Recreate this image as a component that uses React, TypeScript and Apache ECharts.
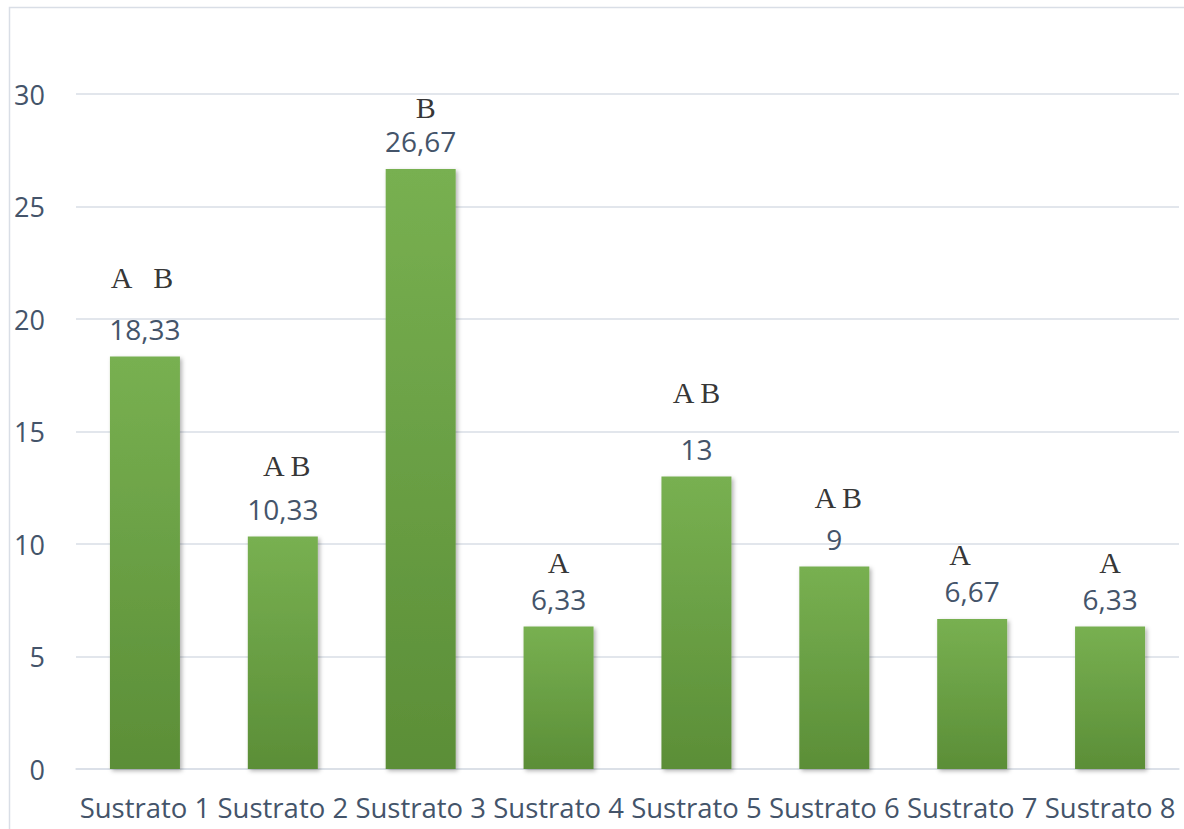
import React, { useEffect, useRef } from "react";
import * as echarts from "echarts";

const categories = ["Sustrato 1", "Sustrato 2", "Sustrato 3", "Sustrato 4", "Sustrato 5", "Sustrato 6", "Sustrato 7", "Sustrato 8"];
const values = [18.33, 10.33, 26.67, 6.33, 13, 9, 6.67, 6.33];
const letters = ["A   B", "A B", "B", "A", "A B", "A B", "A", "A"];
const letterLevels = [21.85, 13.5, 29.4, 9.2, 16.75, 12.05, 9.55, 9.2];
const letterOffsets = [-3, 4, 5, 0, 0, 4, -12, 0];
const yTicks = { min: 0, max: 30, interval: 5 };

export default function App() {
  const ref = useRef<HTMLDivElement>(null);
  useEffect(() => {
    if (!ref.current) return;
    const chart = echarts.init(ref.current, undefined, { renderer: "svg" });
    const textColor = "#44546A";
    const font = "'Open Sans', sans-serif";
    chart.setOption({
      animation: false,
      backgroundColor: "#ffffff",
      graphic: [
        {
          type: "rect",
          shape: { x: 9.5, y: 7.5, width: 1300, height: 900 },
          style: { fill: "none", stroke: "#D9DEE6", lineWidth: 1.5 },
          silent: true,
        },
      ],
      grid: { left: 76, right: 5, top: 94, bottom: 60, containLabel: false },
      xAxis: {
        type: "category",
        data: categories,
        axisTick: { show: false },
        axisLine: { show: true, lineStyle: { color: "#D9DEE6", width: 1.5 } },
        axisLabel: { color: textColor, fontSize: 27.5, fontFamily: font, margin: 24, interval: 0 },
      },
      yAxis: {
        type: "value",
        min: yTicks.min,
        max: yTicks.max,
        interval: yTicks.interval,
        axisLine: { show: false },
        axisTick: { show: false },
        splitLine: { lineStyle: { color: "#D9DEE6", width: 1.5 } },
        axisLabel: { color: textColor, fontSize: 27, fontFamily: font, margin: 31 },
      },
      series: [
        {
          type: "bar",
          data: values,
          barWidth: 70,
          itemStyle: {
            color: new echarts.graphic.LinearGradient(0, 0, 0, 1, [
              { offset: 0, color: "#78B051" },
              { offset: 1, color: "#5B8E37" },
            ]),
            shadowColor: "rgba(0,0,0,0.3)",
            shadowBlur: 4,
            shadowOffsetX: 2,
            shadowOffsetY: 2,
          },
          label: {
            show: true,
            position: "top",
            distance: 14,
            color: textColor,
            fontSize: 28,
            lineHeight: 28,
            fontFamily: font,
            formatter: (p: any) => String(p.value).replace(".", ","),
          },
        },
        {
          type: "scatter",
          data: letterLevels.map((v, i) => ({
            value: v,
            label: { offset: [letterOffsets[i], 0] },
          })),
          symbolSize: 0,
          silent: true,
          label: {
            show: true,
            position: "inside",
            color: "#000000",
            fontSize: 30,
            lineHeight: 30,
            fontFamily: "'Liberation Serif', 'Times New Roman', serif",
            formatter: (p: any) => letters[p.dataIndex],
          },
        },
      ],
    });
    return () => chart.dispose();
  }, []);
  return (
    <div
      ref={ref}
      style={{ position: "fixed", left: 0, top: 0, width: 1184, height: 829 }}
    />
  );
}
